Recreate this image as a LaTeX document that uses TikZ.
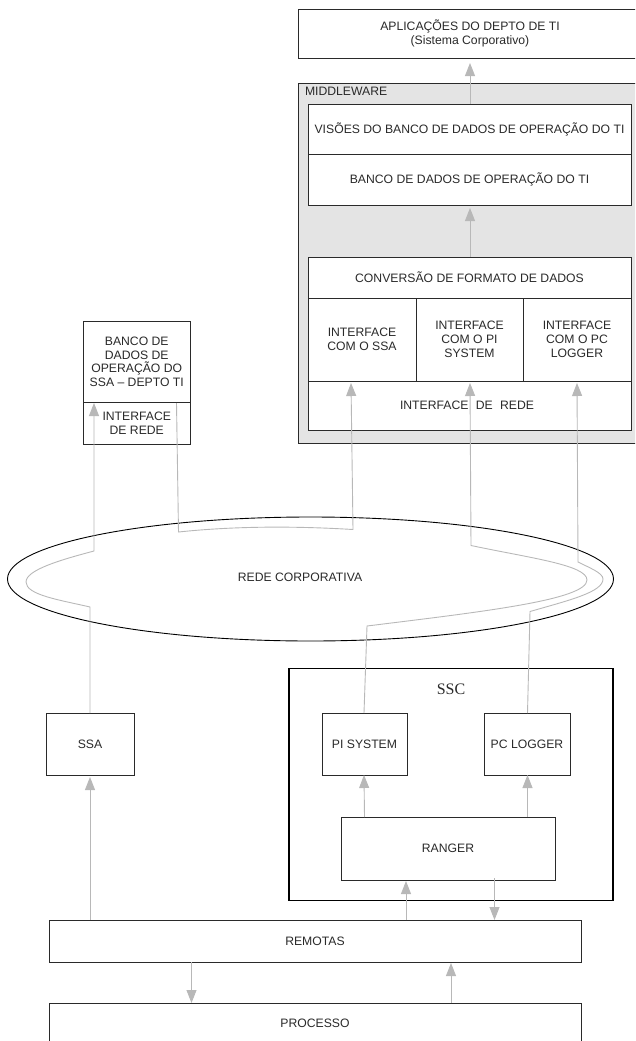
\documentclass[tikz,border=0pt]{standalone}
\usepackage{fontspec}
\setmainfont{Liberation Sans}
\newfontfamily\serifss{Liberation Serif}
\usetikzlibrary{arrows.meta,calc}
\definecolor{wire}{HTML}{B8B8B8}
\definecolor{panel}{HTML}{E4E4E4}
\definecolor{ink}{HTML}{2A2A2A}
\newcommand{\bx}[6]{%
  \pgfmathsetmacro{\bxw}{#4-#2}\pgfmathsetmacro{\bxh}{#5-#3}%
  \node[boxnode,minimum width=\bxw pt,minimum height=\bxh pt] (#1) at ({(#2+#4)/2},{(#3+#5)/2}) {#6};}
\tikzset{
  boxnode/.style={draw=ink,fill=white,line width=0.9pt,inner sep=0pt,outer sep=0pt,align=center,text=ink,
     font=\fontsize{12.2}{13.8}\selectfont},
  label/.style={inner sep=0pt,outer sep=0pt,align=center,text=ink,font=\fontsize{12.2}{13.8}\selectfont},
  arrowl/.style={draw=wire,line width=0.9pt,-{Triangle[length=13pt,width=10pt,fill=wire]}},
}
\begin{document}
\begin{tikzpicture}[x=1pt,y=-1pt]
\useasboundingbox (0,0) rectangle (635,1041);
\clip (0,0) rectangle (635,1041);
% top
\bx{apps}{298}{9}{645}{58}{}
\node[label] (appst) at (470,33.5) {APLICAÇÕES DO DEPTO DE TI\\(Sistema Corporativo)};
% middleware
\node[draw=ink,fill=panel,line width=1pt,inner sep=0pt,outer sep=0pt,minimum width=347pt,minimum height=360pt] (mid) at (471.5,263) {};
\node[label,anchor=west] (midt) at (305,91) {MIDDLEWARE};
\bx{vis}{308}{104}{631}{154}{VISÕES DO BANCO DE DADOS DE OPERAÇÃO DO TI}
\bx{bdti}{308}{154}{631}{205}{BANCO DE DADOS DE OPERAÇÃO DO TI}
\bx{conv}{308}{257}{631}{298}{CONVERSÃO DE FORMATO DE DADOS}
\bx{ifssa}{308}{298}{416}{381}{INTERFACE\\COM O SSA}
\bx{ifpi}{416}{298}{523}{381}{INTERFACE\\COM O PI\\SYSTEM}
\bx{ifpc}{523}{298}{631}{381}{INTERFACE\\COM O PC\\LOGGER}
\bx{ifrede}{308}{381}{631}{430}{}
\node[label] (ifredet) at (467,405) {INTERFACE\hspace{0.6em}DE\hspace{0.6em}REDE};
% left database
\bx{bdssa}{83.5}{321}{190}{402.5}{BANCO DE\\DADOS DE\\OPERAÇÃO DO\\SSA – DEPTO TI}
\bx{ifl}{83.5}{402.5}{190}{444}{INTERFACE\\DE REDE}
% ellipse
\draw[draw=black,line width=0.9pt] (310.5,579) ellipse [x radius=303,y radius=62];
\node[label] (rede) at (300,577) {REDE CORPORATIVA};
% ssc
\node[draw=black,line width=1.8pt,inner sep=0pt,outer sep=0pt,minimum width=324pt,minimum height=232pt] (ssc) at (451,784.5) {};
\node[inner sep=0pt,text=ink,font=\serifss\fontsize{16}{18}\selectfont] (ssct) at (451,689) {SSC};
\bx{pi}{322}{713}{407}{775}{PI SYSTEM}
\bx{pc}{484}{713}{570}{775}{PC LOGGER}
\bx{ranger}{341}{817}{555}{880}{RANGER}
\bx{ssa}{46}{713}{134}{775}{SSA}
\bx{rem}{49}{920}{581}{962}{REMOTAS}
\bx{proc}{49}{1003}{581}{1060}{}
\node[label] (proct) at (315,1023) {PROCESSO};
% connectors
\draw[arrowl] ([xshift=.5pt]vis.north) -- ([xshift=-1.5pt,yshift=-5pt]apps.south);
\draw[arrowl] ([xshift=.5pt]conv.north) -- ([xshift=.5pt,yshift=-3pt]bdti.south);
% SSA to left database
\draw[arrowl] (ssa.north) -- (90,607)
  .. controls (60,600) and (26,595) .. (26,582)
  .. controls (26,570) and (60,560) .. (94,551)
  -- (94,403);
% left database back to middleware
\draw[arrowl] (176.5,403) -- (178.5,532)
  .. controls (235,526) and (295,526) .. (353,529.5)
  -- (351,383);
% PI system
\draw[arrowl] ([xshift=-.5pt]pi.north) -- (367,626)
  .. controls (480,612) and (587,600) .. (587,580)
  .. controls (587,565) and (530,558) .. (471,545.5)
  -- (470,383);
% PC logger
\draw[arrowl] ([xshift=.5pt]pc.north) -- (530,611.5)
  .. controls (570,600) and (603,592) .. (603,579)
  .. controls (603,573) and (590,568) .. (578,562)
  -- (577,383);
% inside SSC
\draw[arrowl] ([xshift=-83.5pt]ranger.north) -- ([xshift=-.5pt]pi.south);
\draw[arrowl] ([xshift=79.5pt]ranger.north) -- ([xshift=.5pt]pc.south);
\draw[arrowl] (rem.north -| ssa) -- ([yshift=-2pt]ssa.south);
\draw[arrowl] (406,920) -- (406,881);
\draw[arrowl] (494.5,878) -- (494.5,920);
\draw[arrowl] (191.5,962) -- (191.5,1003);
\draw[arrowl] (451,1003) -- (451,963);
\end{tikzpicture}
\end{document}
